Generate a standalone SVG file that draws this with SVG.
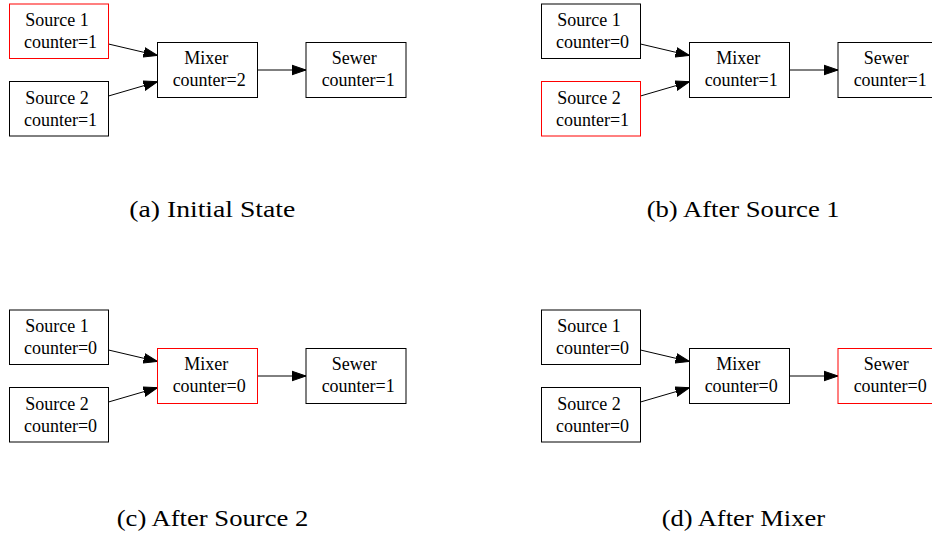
<svg xmlns="http://www.w3.org/2000/svg" width="932" height="538" viewBox="0 0 932 538">
  <defs>
    <style>
      .box { fill: #ffffff; stroke: #000000; stroke-width: 1; }
      .box.hot { stroke: #ff0000; }
      .lbl { font-family: "Liberation Serif", "Times New Roman", serif; font-size: 18px; fill: #000000; text-anchor: middle; }
      .edge { fill: none; stroke: #000000; stroke-width: 1; marker-end: url(#arrow); }
      .cap { font-family: "Liberation Serif", "Times New Roman", serif; font-size: 23px; fill: #000000; }
    </style>
    <marker id="arrow" markerUnits="userSpaceOnUse" markerWidth="16" markerHeight="12" viewBox="0 -6 16 12" refX="14" refY="0" orient="auto">
      <path d="M0,-4.8 L14,0 L0,4.8 Z" fill="#000000" stroke="#000000" stroke-width="1"/>
    </marker>
  </defs>
  <rect width="932" height="538" fill="#ffffff"/>

  <!-- (a) initial state -->
  <g id="panel-a">
    <g id="a-connectors">
      <line class="edge" x1="108.5" y1="44" x2="157.5" y2="55.5"/>
      <line class="edge" x1="108.5" y1="96" x2="157.5" y2="81.7"/>
      <line class="edge" x1="257.5" y1="70" x2="306" y2="70"/>
    </g>
    <g id="a-source1">
      <rect class="box hot" x="9.5" y="4" width="99" height="54.5"/>
      <text class="lbl" x="57" y="26">Source 1</text>
      <text class="lbl" x="60.5" y="48.3">counter=1</text>
    </g>
    <g id="a-source2">
      <rect class="box" x="9.5" y="81.5" width="99" height="54.5"/>
      <text class="lbl" x="57" y="104">Source 2</text>
      <text class="lbl" x="60.5" y="126.3">counter=1</text>
    </g>
    <g id="a-mixer">
      <rect class="box" x="157.5" y="42.5" width="100" height="55"/>
      <text class="lbl" x="206.3" y="64">Mixer</text>
      <text class="lbl" x="209.2" y="86.3">counter=2</text>
    </g>
    <g id="a-sewer">
      <rect class="box" x="306" y="42.5" width="100" height="55"/>
      <text class="lbl" x="354.2" y="64">Sewer</text>
      <text class="lbl" x="358.2" y="86.3">counter=1</text>
    </g>
    <text class="cap" x="129.3" y="216.7" textLength="166" lengthAdjust="spacingAndGlyphs">(a) Initial State</text>
  </g>

  <!-- (b) after Source 1 -->
  <g id="panel-b" transform="translate(532,0)">
    <g id="b-connectors">
      <line class="edge" x1="108.5" y1="44" x2="157.5" y2="55.5"/>
      <line class="edge" x1="108.5" y1="96" x2="157.5" y2="81.7"/>
      <line class="edge" x1="257.5" y1="70" x2="306" y2="70"/>
    </g>
    <g id="b-source1">
      <rect class="box" x="9.5" y="4" width="99" height="54.5"/>
      <text class="lbl" x="57" y="26">Source 1</text>
      <text class="lbl" x="60.5" y="48.3">counter=0</text>
    </g>
    <g id="b-source2">
      <rect class="box hot" x="9.5" y="81.5" width="99" height="54.5"/>
      <text class="lbl" x="57" y="104">Source 2</text>
      <text class="lbl" x="60.5" y="126.3">counter=1</text>
    </g>
    <g id="b-mixer">
      <rect class="box" x="157.5" y="42.5" width="100" height="55"/>
      <text class="lbl" x="206.3" y="64">Mixer</text>
      <text class="lbl" x="209.2" y="86.3">counter=1</text>
    </g>
    <g id="b-sewer">
      <rect class="box" x="306" y="42.5" width="100" height="55"/>
      <text class="lbl" x="354.2" y="64">Sewer</text>
      <text class="lbl" x="358.2" y="86.3">counter=1</text>
    </g>
  </g>
  <text class="cap" x="646.7" y="216.7" textLength="193" lengthAdjust="spacingAndGlyphs">(b) After Source 1</text>

  <!-- (c) after Source 2 -->
  <g id="panel-c" transform="translate(0,306)">
    <g id="c-connectors">
      <line class="edge" x1="108.5" y1="44" x2="157.5" y2="55.5"/>
      <line class="edge" x1="108.5" y1="96" x2="157.5" y2="81.7"/>
      <line class="edge" x1="257.5" y1="70" x2="306" y2="70"/>
    </g>
    <g id="c-source1">
      <rect class="box" x="9.5" y="4" width="99" height="54.5"/>
      <text class="lbl" x="57" y="26">Source 1</text>
      <text class="lbl" x="60.5" y="48.3">counter=0</text>
    </g>
    <g id="c-source2">
      <rect class="box" x="9.5" y="81.5" width="99" height="54.5"/>
      <text class="lbl" x="57" y="104">Source 2</text>
      <text class="lbl" x="60.5" y="126.3">counter=0</text>
    </g>
    <g id="c-mixer">
      <rect class="box hot" x="157.5" y="42.5" width="100" height="55"/>
      <text class="lbl" x="206.3" y="64">Mixer</text>
      <text class="lbl" x="209.2" y="86.3">counter=0</text>
    </g>
    <g id="c-sewer">
      <rect class="box" x="306" y="42.5" width="100" height="55"/>
      <text class="lbl" x="354.2" y="64">Sewer</text>
      <text class="lbl" x="358.2" y="86.3">counter=1</text>
    </g>
  </g>
  <text class="cap" x="116.7" y="526" textLength="191.6" lengthAdjust="spacingAndGlyphs">(c) After Source 2</text>

  <!-- (d) after Mixer -->
  <g id="panel-d" transform="translate(532,306)">
    <g id="d-connectors">
      <line class="edge" x1="108.5" y1="44" x2="157.5" y2="55.5"/>
      <line class="edge" x1="108.5" y1="96" x2="157.5" y2="81.7"/>
      <line class="edge" x1="257.5" y1="70" x2="306" y2="70"/>
    </g>
    <g id="d-source1">
      <rect class="box" x="9.5" y="4" width="99" height="54.5"/>
      <text class="lbl" x="57" y="26">Source 1</text>
      <text class="lbl" x="60.5" y="48.3">counter=0</text>
    </g>
    <g id="d-source2">
      <rect class="box" x="9.5" y="81.5" width="99" height="54.5"/>
      <text class="lbl" x="57" y="104">Source 2</text>
      <text class="lbl" x="60.5" y="126.3">counter=0</text>
    </g>
    <g id="d-mixer">
      <rect class="box" x="157.5" y="42.5" width="100" height="55"/>
      <text class="lbl" x="206.3" y="64">Mixer</text>
      <text class="lbl" x="209.2" y="86.3">counter=0</text>
    </g>
    <g id="d-sewer">
      <rect class="box hot" x="306" y="42.5" width="100" height="55"/>
      <text class="lbl" x="354.2" y="64">Sewer</text>
      <text class="lbl" x="358.2" y="86.3">counter=0</text>
    </g>
  </g>
  <text class="cap" x="661.7" y="526" textLength="163.3" lengthAdjust="spacingAndGlyphs">(d) After Mixer</text>
</svg>
